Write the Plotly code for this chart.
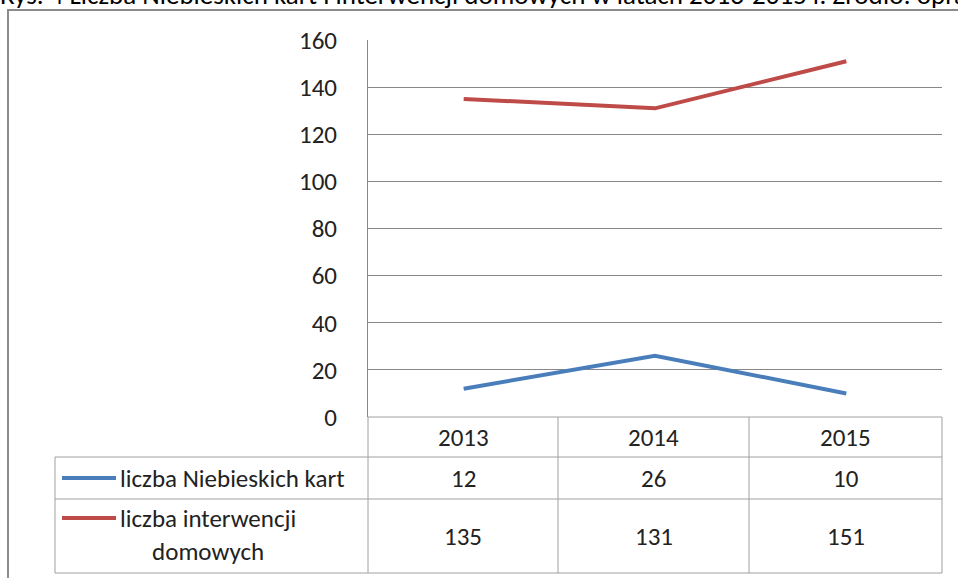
import plotly.graph_objects as go

years = ["2013", "2014", "2015"]
series_names = ["liczba Niebieskich kart", "liczba interwencji<br>domowych"]
niebieskie_karty = [12, 26, 10]
interwencje = [135, 131, 151]
y_ticks = [0, 20, 40, 60, 80, 100, 120, 140, 160]
title_text = "Rys. 4 Liczba Niebieskich kart i interwencji domowych w latach 2013-2015 r. Źródło: opracowanie własne"

BLUE = "#4A7EBB"
RED = "#BE4B48"
GRID = "#888888"
TBL = "#A0A0A0"
TXT = "#222222"
FONT = "Carlito, Calibri, Lato, sans-serif"
FS = 25

W, H = 958, 578
L, R, T, B = 368, 942, 40, 417  # plot area in pixels


def px(xp):
    return (xp - L) / (R - L)


def py(yp):
    return (B - yp) / (B - T)


fig = go.Figure()
fig.add_trace(go.Scatter(x=years, y=niebieskie_karty, mode="lines",
                         line=dict(color=BLUE, width=4), showlegend=False))
fig.add_trace(go.Scatter(x=years, y=interwencje, mode="lines",
                         line=dict(color=RED, width=4), showlegend=False))

shapes = []
shapes.append(dict(type="rect", xref="paper", yref="paper",
                   x0=px(8), x1=px(1200), y0=py(10), y1=py(800),
                   line=dict(color="#8C8C8C", width=2), layer="below"))
for yy, x0 in [(B, L), (457, 55), (499, 55), (573, 55)]:
    shapes.append(dict(type="line", xref="paper", yref="paper",
                       x0=px(x0), x1=px(R), y0=py(yy), y1=py(yy),
                       line=dict(color=TBL, width=1)))
col_edges = [L, 558, 749, R]
for xx in col_edges:
    shapes.append(dict(type="line", xref="paper", yref="paper",
                       x0=px(xx), x1=px(xx), y0=py(B), y1=py(573),
                       line=dict(color=TBL, width=1)))
shapes.append(dict(type="line", xref="paper", yref="paper",
                   x0=px(55), x1=px(55), y0=py(457), y1=py(573),
                   line=dict(color=TBL, width=1)))
for yy, col in [(478, BLUE), (518, RED)]:
    shapes.append(dict(type="line", xref="paper", yref="paper",
                       x0=px(62), x1=px(116), y0=py(yy), y1=py(yy),
                       line=dict(color=col, width=4)))

annotations = []
annotations.append(dict(text=title_text, xref="paper", yref="paper",
                        x=px(-2), y=py(-6), xanchor="left", yanchor="middle",
                        showarrow=False, font=dict(size=27, color="#000000", family=FONT)))
centers = [(col_edges[i] + col_edges[i + 1]) / 2 for i in range(3)]
for i, yr in enumerate(years):
    annotations.append(dict(text=yr, xref="paper", yref="paper", x=px(centers[i]), y=py(437),
                            xanchor="center", yanchor="middle", showarrow=False,
                            font=dict(size=FS, color=TXT, family=FONT)))
    annotations.append(dict(text=str(niebieskie_karty[i]), xref="paper", yref="paper",
                            x=px(centers[i]), y=py(478), xanchor="center", yanchor="middle",
                            showarrow=False, font=dict(size=FS, color=TXT, family=FONT)))
    annotations.append(dict(text=str(interwencje[i]), xref="paper", yref="paper",
                            x=px(centers[i]), y=py(536), xanchor="center", yanchor="middle",
                            showarrow=False, font=dict(size=FS, color=TXT, family=FONT)))
annotations.append(dict(text=series_names[0], xref="paper", yref="paper", x=px(118), y=py(478),
                        xanchor="left", yanchor="middle", showarrow=False,
                        font=dict(size=FS, color=TXT, family=FONT)))
annotations.append(dict(text=series_names[1], xref="paper", yref="paper", x=px(118), y=py(535),
                        xanchor="left", yanchor="middle", align="center", showarrow=False,
                        font=dict(size=FS, color=TXT, family=FONT)))

fig.update_layout(
    width=W, height=H,
    margin=dict(l=L, r=W - R, t=T, b=H - B),
    paper_bgcolor="white", plot_bgcolor="white",
    shapes=shapes, annotations=annotations,
    xaxis=dict(type="category", range=[-0.5, 2.5], showticklabels=False, showgrid=False,
               zeroline=False, showline=False, ticks=""),
    yaxis=dict(range=[0, 160], tickvals=y_ticks, showgrid=True, gridcolor=GRID, gridwidth=1,
               zeroline=False, showline=True, linecolor=GRID, linewidth=1, ticks="",
               ticklabelstandoff=25,
               tickfont=dict(size=FS, color=TXT, family=FONT)),
)

fig.write_html("out.html", config={"displayModeBar": False},
               post_script="document.body.style.margin='0';")
